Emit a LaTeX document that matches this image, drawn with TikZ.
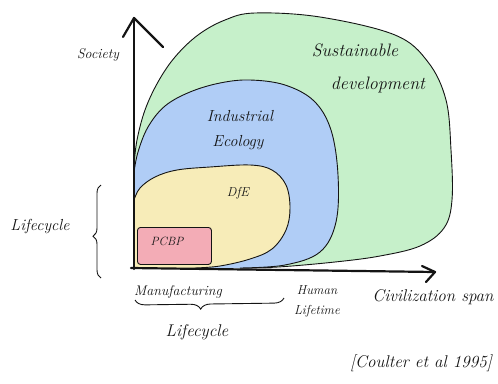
\documentclass[tikz,border=0pt]{standalone}
\usetikzlibrary{decorations.pathreplacing}
\definecolor{sdgreen}{RGB}{198,240,202}
\definecolor{iebluefill}{RGB}{176,205,246}
\definecolor{dfeyellow}{RGB}{247,236,184}
\definecolor{pcbppink}{RGB}{243,172,182}
\definecolor{ink}{RGB}{20,20,20}
\begin{document}
\begin{tikzpicture}[x=1pt,y=-1pt,
  outline/.style={draw=ink, line width=0.9pt},
  axisline/.style={draw=ink, line width=2.2pt, line cap=round, line join=round},
  hand/.style={inner sep=0pt, text=ink, font=\itshape},
  bracestyle/.style={draw=ink, line width=0.9pt, decorate},
  pinkbox/.style={draw=ink, line width=0.9pt, fill=pcbppink, rounded corners=3pt, anchor=north west, minimum width=74pt, minimum height=37pt, inner sep=0pt}
]
\useasboundingbox (0,0) rectangle (498,383);

% Sustainable development region
\path[fill=sdgreen] (134,268) -- plot[smooth, tension=0.6] coordinates {(134,165) (137,140) (145,110) (158,82) (175,57) (198,35) (225,20) (255,13) (320,17) (395,35) (428,62) (446,100) (451,150) (452,200) (444,228) (420,246) (380,256) (335,262) (278,267) (240,268)} -- cycle;
\draw[outline] plot[smooth, tension=0.6] coordinates {(134,165) (137,140) (145,110) (158,82) (175,57) (198,35) (225,20) (255,13) (320,17) (395,35) (428,62) (446,100) (451,150) (452,200) (444,228) (420,246) (380,256) (335,262) (278,267) (240,268)};

% Industrial ecology region
\path[fill=iebluefill] (134,268) -- plot[smooth, tension=0.6] coordinates {(134,172) (138,152) (148,127) (165,106) (190,92) (220,83) (250,80) (285,85) (314,101) (331,130) (338,175) (336,222) (320,252) (285,265) (240,268)} -- cycle;
\draw[outline] plot[smooth, tension=0.6] coordinates {(134,172) (138,152) (148,127) (165,106) (190,92) (220,83) (250,80) (285,85) (314,101) (331,130) (338,175) (336,222) (320,252) (285,265) (240,268)};

% DfE region
\path[fill=dfeyellow] (134,268) -- plot[smooth, tension=0.6] coordinates {(134,200) (140,188) (155,177) (177,170) (210,167) (250,165) (272,170) (286,185) (290,208) (286,230) (272,249) (250,259) (220,266) (195,268)} -- cycle;
\draw[outline] plot[smooth, tension=0.6] coordinates {(134,200) (140,188) (155,177) (177,170) (210,167) (250,165) (272,170) (286,185) (290,208) (286,230) (272,249) (250,259) (220,266) (195,268)};

% PCBP box
\node[pinkbox] (pcbpbox) at (137,227) {};
\node[hand, font=\fontsize{12}{14}\selectfont\itshape] (pcbp) at (167,241) {PCBP};

% Axes
\coordinate (origin) at (134,269);
\coordinate (ytip) at (134,18);
\coordinate (xstart) at (131,268);
\coordinate (xtip) at (435,272);
\draw[axisline] (origin) -- (ytip);
\draw[axisline] (ytip) ++(-11,19) -- (ytip) -- ++(29,29);
\draw[axisline] (xstart) -- (xtip);
\draw[axisline] (xtip) ++(-13,-6) -- (xtip) -- ++(-9,10);

% Region labels
\node[hand, font=\fontsize{18}{20}\selectfont\itshape] (sus) at (355,50) {Sustainable};
\node[hand, font=\fontsize{18}{20}\selectfont\itshape] (dev) at (378,85) {development};
\node[hand, font=\fontsize{16}{18}\selectfont\itshape] (ind) at (240,116) {Industrial};
\node[hand, font=\fontsize{16}{18}\selectfont\itshape] (eco) at (238,143) {Ecology};
\node[hand, font=\fontsize{13}{15}\selectfont\itshape] (dfe) at (238,193) {DfE};

% Axis labels
\node[hand, font=\fontsize{14}{16}\selectfont\itshape] (society) at (98,55) {Society};
\node[hand, font=\fontsize{16}{18}\selectfont\itshape] (lifeleft) at (40,226) {Lifecycle};
\node[hand, font=\fontsize{14}{16}\selectfont\itshape] (manuf) at (178,292) {Manufacturing};
\node[hand, font=\fontsize{17}{19}\selectfont\itshape] (lifebottom) at (197,332) {Lifecycle};
\node[hand, font=\fontsize{13}{15}\selectfont\itshape] (human) at (317,290) {Human};
\node[hand, font=\fontsize{13}{15}\selectfont\itshape] (lifetime) at (317,311) {Lifetime};
\node[hand, font=\fontsize{17}{19}\selectfont\itshape] (civ) at (433,297) {Civilization span};
\node[hand, font=\fontsize{17}{19}\selectfont\itshape] (ref) at (421,363) {[Coulter et al 1995]};

% Braces
\coordinate (lbtop) at (101,185);
\coordinate (lbbot) at (101,278);
\draw[bracestyle, decoration={brace, amplitude=8pt, aspect=0.45}] (lbbot) -- (lbtop);
\coordinate (bbleft) at (135,300);
\coordinate (bbright) at (284,298);
\draw[bracestyle, decoration={brace, amplitude=10pt, aspect=0.56}] (bbright) -- (bbleft);
\end{tikzpicture}
\end{document}
